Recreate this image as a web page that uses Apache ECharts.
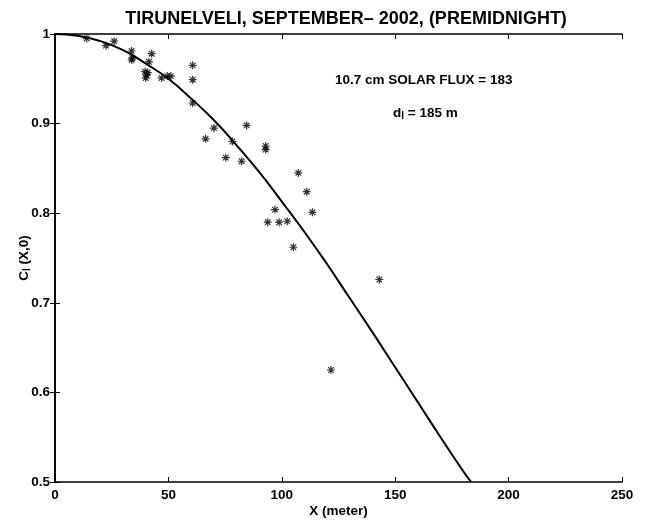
<!DOCTYPE html>
<html>
<head>
<meta charset="utf-8">
<script src="https://cdn.jsdelivr.net/npm/echarts@6/dist/echarts.min.js"></script>
<style>
  html, body { margin: 0; padding: 0; background: #fff; }
  #chart { width: 645px; height: 520px; }
</style>
</head>
<body>
<div id="chart"></div>
<script>
// observed scatter points: distance X (m), correlation C_l(X,0)
const obsX = [14.0, 22.5, 26.1, 33.8, 34.1, 33.8, 42.6, 41.4, 39.7, 40.9, 40.4, 40.0, 47.0, 49.5, 51.1,
  60.7, 60.7, 60.7, 70.1, 66.4, 84.5, 78.2, 75.3, 82.3, 92.9, 92.9, 107.3, 111.0, 113.5, 97.0,
  93.8, 98.8, 102.4, 105.1, 143.0, 121.7];
const obsC = [0.995, 0.987, 0.992, 0.981, 0.973, 0.971, 0.978, 0.969, 0.958, 0.957, 0.954, 0.951, 0.951, 0.953, 0.953,
  0.965, 0.949, 0.923, 0.895, 0.883, 0.898, 0.880, 0.862, 0.858, 0.875, 0.871, 0.845, 0.824, 0.801, 0.804,
  0.790, 0.790, 0.791, 0.762, 0.726, 0.625];

// fitted curve
const fitX = [0, 10, 20, 30, 40, 50, 60, 70, 80, 90, 100, 110, 120, 130, 140, 150, 160, 170, 180, 183.5];
const fitC = [1.000, 0.998, 0.992, 0.982, 0.967, 0.950, 0.928, 0.904, 0.876, 0.846, 0.813, 0.779, 0.743, 0.705, 0.667, 0.628, 0.589, 0.550, 0.512, 0.500];

const xTicks = [0, 50, 100, 150, 200, 250];
const yTicks = [0.5, 0.6, 0.7, 0.8, 0.9, 1];

const font = 'Liberation Sans, Arial, sans-serif';
const fs = 13.5;
const star = 'path://M0,-1L0,1M-1,0L1,0M-0.7,-0.7L0.7,0.7M-0.7,0.7L0.7,-0.7';

const chart = echarts.init(document.getElementById('chart'));

const axisBase = {
  nameMoveOverlap: false,
  axisLine: { lineStyle: { color: '#000', width: 1.6 } },
  axisTick: { inside: true, length: 5, lineStyle: { color: '#000', width: 1 } },
  splitLine: { show: false }
};

chart.setOption({
  animation: false,
  title: {
    text: 'TIRUNELVELI, SEPTEMBER\u2013 2002, (PREMIDNIGHT)',
    left: 341, top: 5, textAlign: 'center',
    textStyle: { fontFamily: font, fontWeight: 'bold', fontSize: 18, color: '#000' }
  },
  grid: { left: 55, right: 23, top: 34, bottom: 38, outerBoundsMode: 'none', containLabel: false },
  xAxis: [
    Object.assign({}, axisBase, {
      type: 'value', min: xTicks[0], max: xTicks[xTicks.length - 1], interval: 50,
      name: 'X (meter)', nameLocation: 'middle', nameGap: 22,
      nameTextStyle: { fontFamily: font, fontWeight: 'bold', fontSize: fs, color: '#000' },
      axisLabel: { fontFamily: font, fontWeight: 'bold', fontSize: fs, color: '#000', margin: 6 }
    }),
    Object.assign({}, axisBase, {
      type: 'value', position: 'top', min: xTicks[0], max: xTicks[xTicks.length - 1], interval: 50,
      axisLabel: { show: false }
    })
  ],
  yAxis: [
    Object.assign({}, axisBase, {
      type: 'value', min: yTicks[0], max: yTicks[yTicks.length - 1], interval: 0.1,
      name: 'C{s|l} (X,0)', nameLocation: 'middle', nameGap: 24, nameRotate: 90,
      nameTextStyle: {
        fontFamily: font, fontWeight: 'bold', fontSize: fs, color: '#000',
        rich: { s: { fontFamily: font, fontWeight: 'bold', fontSize: 10, color: '#000', padding: [0, 0, -7, 0] } }
      },
      axisLabel: {
        fontFamily: font, fontWeight: 'bold', fontSize: fs, color: '#000', margin: 5,
        formatter: v => String(+v.toFixed(1))
      }
    }),
    Object.assign({}, axisBase, {
      type: 'value', position: 'right', min: yTicks[0], max: yTicks[yTicks.length - 1], interval: 0.1,
      axisLabel: { show: false }
    })
  ],
  graphic: [
    { type: 'text', left: 335, top: 73,
      style: { text: '10.7 cm SOLAR FLUX = 183', fontFamily: font, fontWeight: 'bold', fontSize: fs, fill: '#000' } },
    { type: 'text', left: 393, top: 106,
      style: { text: 'd{s|l} = 185 m', fontFamily: font, fontWeight: 'bold', fontSize: fs, fill: '#000',
        rich: { s: { fontFamily: font, fontWeight: 'bold', fontSize: 10, fill: '#000', padding: [7, 0, 0, 0] } } } }
  ],
  series: [
    {
      type: 'line',
      data: fitX.map((x, i) => [x, fitC[i]]),
      showSymbol: false,
      smooth: true,
      clip: true,
      lineStyle: { color: '#000', width: 2 }
    },
    {
      type: 'scatter',
      data: obsX.map((x, i) => [x, obsC[i]]),
      symbol: star,
      symbolSize: 8,
      itemStyle: { color: 'transparent', borderColor: '#000', borderWidth: 1.2 }
    }
  ]
});
</script>
</body>
</html>
